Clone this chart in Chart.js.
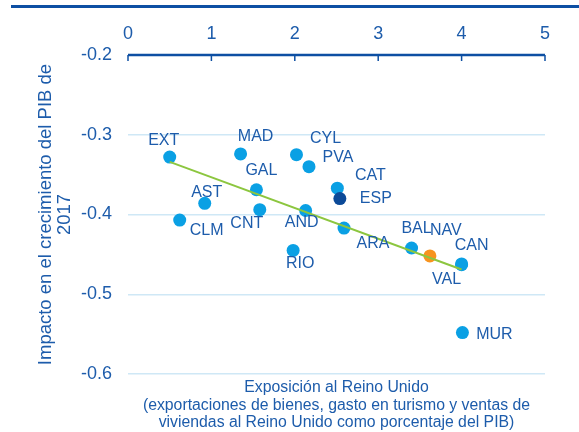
<!DOCTYPE html>
<html>
<head>
<meta charset="utf-8">
<script src="https://cdn.jsdelivr.net/npm/chart.js@4/dist/chart.umd.min.js"></script>
<style>
  body { margin: 0; background: #ffffff; }
  #wrap { width: 579px; height: 432px; }
</style>
</head>
<body>
<div id="wrap"><canvas id="chart" width="579" height="432"></canvas></div>
<script>
// regions and values
const regions = ['EXT', 'MAD', 'CYL', 'PVA', 'GAL', 'CAT', 'ESP', 'AST', 'CLM', 'CNT', 'AND', 'ARA', 'RIO', 'BAL', 'NAV', 'VAL', 'CAN', 'MUR'];
const exposure = [0.50, 1.35, 2.02, 2.17, 1.54, 2.51, 2.54, 0.92, 0.62, 1.58, 2.13, 2.59, 1.98, 3.40, 3.62, 4.00, 4.00, 4.01];
const impact = [-0.328, -0.324, -0.325, -0.340, -0.369, -0.367, -0.380, -0.386, -0.407, -0.394, -0.395, -0.417, -0.445, -0.442, -0.452, -0.463, -0.462, -0.548];
// fitted trend line ends
const trendX = [0.5, 4.0];
const trendY = [-0.334, -0.469];
const xTicks = [0, 1, 2, 3, 4, 5];

const textBlue = '#1d5cab';
const axisBlue = '#0d4fa3';
const dotBlue = '#0aa0e4';
const fontFam = '"Liberation Sans", Arial, sans-serif';
// colour per region (Spain dark, Navarra orange)
const pointColors = regions.map(r => r == 'ESP' ? '#0b4a98' : (r == 'NAV' ? '#f7931e' : dotBlue));
// label offsets from the dot centre
const labelPos = {
  EXT: [-6, -16], MAD: [15, -17], CYL: [29, -16], PVA: [29, -9], GAL: [5, -19],
  CAT: [33, -13], ESP: [36, 0], AST: [2, -11], CLM: [27, 11], CNT: [-13, 14],
  AND: [-4, 12], ARA: [29, 16], RIO: [7, 13], BAL: [5, -19], NAV: [16, -25],
  VAL: [-15, 15], CAN: [10, -18], MUR: [32, 2]
};

const points = regions.map((r, i) => ({ x: exposure[i], y: impact[i] }));
const trend = trendX.map((x, i) => ({ x: x, y: trendY[i] }));

const decor = {
  id: 'decor',
  afterDraw(chart) {
    const ctx = chart.ctx;
    const x = chart.scales.x;
    const y = chart.scales.y;
    const top = y.getPixelForValue(-0.2);
    ctx.save();
    // rule across the top of the figure
    ctx.fillStyle = axisBlue;
    ctx.fillRect(11, 5, 568, 3);
    // x axis line with ticks pointing down
    ctx.strokeStyle = axisBlue;
    ctx.lineWidth = 2.5;
    ctx.beginPath();
    ctx.moveTo(x.getPixelForValue(0), top);
    ctx.lineTo(x.getPixelForValue(5), top);
    ctx.stroke();
    ctx.lineWidth = 1.5;
    xTicks.forEach(t => {
      const px = x.getPixelForValue(t);
      ctx.beginPath();
      ctx.moveTo(px, top);
      ctx.lineTo(px, top + 6);
      ctx.stroke();
    });
    // region labels
    ctx.fillStyle = textBlue;
    ctx.font = '16px ' + fontFam;
    ctx.textAlign = 'center';
    ctx.textBaseline = 'middle';
    const meta = chart.getDatasetMeta(1);
    regions.forEach((r, i) => {
      const el = meta.data[i];
      const off = labelPos[r] || [0, -15];
      ctx.fillText(r, el.x + off[0], el.y + off[1]);
    });
    ctx.restore();
  }
};

new Chart(document.getElementById('chart'), {
  plugins: [decor],
  data: {
    datasets: [
      {
        type: 'line',
        data: trend,
        borderColor: '#8cc63f',
        borderWidth: 2,
        pointRadius: 0,
        fill: false,
        order: 0
      },
      {
        type: 'scatter',
        data: points,
        backgroundColor: pointColors,
        borderWidth: 0,
        pointRadius: 6.5,
        order: 1
      }
    ]
  },
  options: {
    responsive: false,
    animation: false,
    layout: { padding: { left: 0, right: 34, top: 0, bottom: 0 } },
    plugins: { legend: { display: false }, tooltip: { enabled: false } },
    scales: {
      x: {
        type: 'linear',
        position: 'top',
        min: 0,
        max: 5,
        ticks: {
          stepSize: 1,
          color: textBlue,
          padding: 2,
          font: { size: 18, family: fontFam }
        },
        grid: { display: false },
        border: { display: false },
        afterFit(scale) { scale.height = 55; }
      },
      x2: {
        type: 'linear',
        position: 'bottom',
        min: 0,
        max: 5,
        ticks: { display: false },
        grid: { display: false },
        border: { display: false },
        title: {
          display: true,
          text: ['Exposición al Reino Unido', '(exportaciones de bienes, gasto en turismo y ventas de', 'viviendas al Reino Unido como porcentaje del PIB)'],
          color: textBlue,
          font: { size: 15.8, family: fontFam, lineHeight: 1.13 },
          padding: { top: 4, bottom: 0 }
        },
        afterFit(scale) { scale.height = 58; }
      },
      y: {
        type: 'linear',
        min: -0.6,
        max: -0.2,
        ticks: {
          stepSize: 0.1,
          color: textBlue,
          padding: 16,
          font: { size: 18, family: fontFam },
          callback: v => v.toFixed(1)
        },
        grid: { color: '#cfe8f6', lineWidth: 1.5, drawTicks: false },
        border: { display: false },
        title: {
          display: true,
          text: ['Impacto en el crecimiento del PIB de', '2017'],
          color: textBlue,
          font: { size: 18.5, family: fontFam, lineHeight: 1.05 },
          padding: { top: 36, bottom: 0 }
        },
        afterFit(scale) { scale.width = 128; }
      }
    }
  }
});
</script>
</body>
</html>
